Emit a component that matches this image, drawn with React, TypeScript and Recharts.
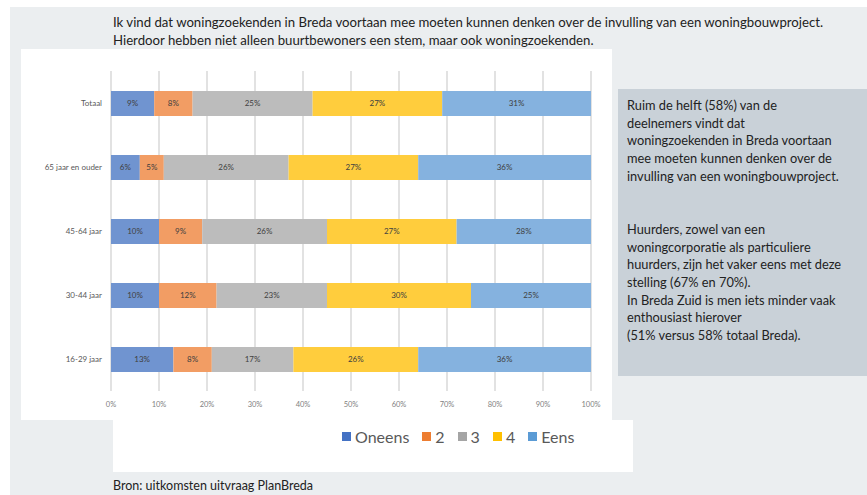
import { BarChart, Bar, XAxis, YAxis, CartesianGrid, LabelList } from "recharts";

// answers per age group, in %
const categories = ["Totaal", "65 jaar en ouder", "45-64 jaar", "30-44 jaar", "16-29 jaar"];
const oneens = [9, 6, 10, 10, 13];
const twee = [8, 5, 9, 12, 8];
const drie = [25, 26, 26, 23, 17];
const vier = [27, 27, 27, 30, 26];
const eens = [31, 36, 28, 25, 36];
const xTicks = [0, 10, 20, 30, 40, 50, 60, 70, 80, 90, 100];

const seriesKeys = ["oneens", "twee", "drie", "vier", "eens"];
const seriesNames = ["Oneens", "2", "3", "4", "Eens"];
const barColors = ["#7094d0", "#f29d64", "#bcbcbc", "#ffcd3d", "#85b2df"];
const legendColors = ["#4472c4", "#ed7d31", "#a5a5a5", "#ffc000", "#5b9bd5"];

const title = [
  "Ik vind dat woningzoekenden in Breda voortaan mee moeten kunnen denken over de invulling van een woningbouwproject.",
  "Hierdoor hebben niet alleen buurtbewoners een stem, maar ook woningzoekenden.",
];
const note1 = [
  "Ruim de helft (58%) van de",
  "deelnemers vindt dat",
  "woningzoekenden in Breda voortaan",
  "mee moeten kunnen denken over de",
  "invulling van een woningbouwproject.",
];
const note2 = [
  "Huurders, zowel van een",
  "woningcorporatie als particuliere",
  "huurders, zijn het vaker eens met deze",
  "stelling (67% en 70%).",
  "In Breda Zuid is men iets minder vaak",
  "enthousiast hierover",
  "(51% versus 58% totaal Breda).",
];

const data = categories.map((name, i) => ({
  name,
  oneens: oneens[i],
  twee: twee[i],
  drie: drie[i],
  vier: vier[i],
  eens: eens[i],
}));

const FONT = "Lato, 'Liberation Sans', sans-serif";

// plain one-line category label (the default tick wraps long names)
const CatTick = (props: any) => {
  const { x, y, payload } = props;
  return (
    <text x={x - 1} y={y} dy={3} textAnchor="end" fontSize={8} fill="#595959">
      {payload.value}
    </text>
  );
};

export default function App() {
  return (
    <div style={{ position: "absolute", left: 0, top: 0, width: 867, height: 495, background: "#fff", fontFamily: FONT, overflow: "hidden" }}>
      {/* grey page */}
      <div style={{ position: "absolute", left: 10, top: 7, width: 857, height: 488, background: "#ebeef0" }} />

      {/* title */}
      <div style={{ position: "absolute", left: 113, top: 13, fontSize: 13.2, lineHeight: "18px", color: "#222", whiteSpace: "nowrap" }}>
        {title.map((t) => (
          <div key={t}>{t}</div>
        ))}
      </div>

      {/* chart */}
      <div style={{ position: "absolute", left: 21, top: 49, width: 591, height: 371, background: "#fff" }}>
        <BarChart
          width={591}
          height={371}
          data={data}
          layout="vertical"
          barSize={25}
          margin={{ top: 22, right: 21, left: 0, bottom: 0 }}
          style={{ fontFamily: FONT }}
        >
          <CartesianGrid horizontal={false} stroke="#d9d9d9" strokeWidth={1.5} />
          <XAxis
            type="number"
            domain={[0, 100]}
            ticks={xTicks}
            tickFormatter={(v) => v + "%"}
            axisLine={false}
            tickLine={false}
            tickMargin={5}
            height={29}
            tick={{ fontSize: 7.5, fill: "#7f7f7f" }}
          />
          <YAxis
            type="category"
            dataKey="name"
            width={90}
            axisLine={false}
            tickLine={false}
            tick={<CatTick />}
          />
          {seriesKeys.map((k, i) => (
            <Bar key={k} dataKey={k} name={seriesNames[i]} stackId="a" fill={barColors[i]} isAnimationActive={false}>
              <LabelList dataKey={k} position="center" formatter={(v: any) => v + "%"} fill="#404040" fontSize={8} />
            </Bar>
          ))}
        </BarChart>
      </div>

      {/* legend box */}
      <div style={{ position: "absolute", left: 113, top: 420, width: 520, height: 52, background: "#fff" }}>
        <div style={{ position: "absolute", left: 229, top: 7, display: "flex", alignItems: "center", whiteSpace: "nowrap" }}>
          {seriesNames.map((n, i) => (
            <div key={n} style={{ display: "flex", alignItems: "center", marginRight: 13 }}>
              <span style={{ width: 9, height: 9, background: legendColors[i], marginRight: 4, display: "inline-block" }} />
              <span style={{ fontSize: 16, color: "#595959" }}>{n}</span>
            </div>
          ))}
        </div>
      </div>

      {/* note box */}
      <div style={{ position: "absolute", left: 618, top: 89, width: 249, height: 287, background: "#c9d1d8" }}>
        <div style={{ position: "absolute", left: 9, top: 8, fontSize: 12.8, lineHeight: "17.7px", color: "#222", whiteSpace: "nowrap" }}>
          {note1.map((t) => (
            <div key={t}>{t}</div>
          ))}
          <div style={{ height: 17.7 }} />
          <div style={{ height: 17.7 }} />
          {note2.map((t) => (
            <div key={t}>{t}</div>
          ))}
        </div>
      </div>

      {/* source */}
      <div style={{ position: "absolute", left: 113, top: 478, fontSize: 12.5, color: "#222", whiteSpace: "nowrap" }}>
        Bron: uitkomsten uitvraag PlanBreda
      </div>
    </div>
  );
}
